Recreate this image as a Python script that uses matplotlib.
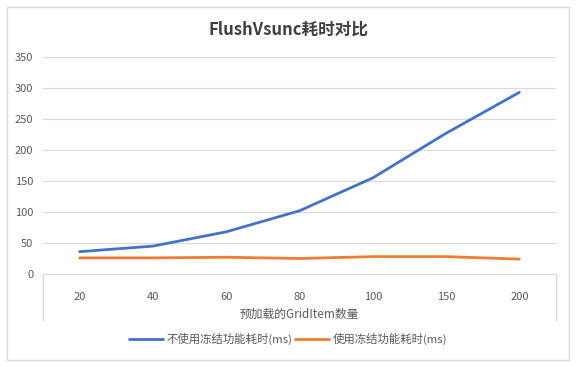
import matplotlib
matplotlib.use("Agg")
import matplotlib.pyplot as plt
from matplotlib.patches import Rectangle
from matplotlib.lines import Line2D

plt.rcParams['font.family'] = ['Noto Sans CJK SC', 'DejaVu Sans']

categories = ["20", "40", "60", "80", "100", "150", "200"]
no_freeze = [36, 45, 68, 102, 155, 227, 293]
with_freeze = [26, 26, 27, 25, 28, 28, 24]
yticks = [0, 50, 100, 150, 200, 250, 300, 350]

W, H = 576, 367
fig = plt.figure(figsize=(W / 100, H / 100), dpi=100)

# outer frame
fig.patches.append(Rectangle((7 / W, 7 / H), 562 / W, 353 / H, transform=fig.transFigure,
                             fill=False, edgecolor="#d9d9d9", linewidth=1))

ax = fig.add_axes([43 / W, (H - 274) / H, (556 - 43) / W, (274 - 57) / H])
x = list(range(len(categories)))
ax.plot(x, no_freeze, color="#4472C4", linewidth=2.0, solid_capstyle="round",
        label="不使用冻结功能耗时(ms)")
ax.plot(x, with_freeze, color="#ED7D31", linewidth=2.0, solid_capstyle="round",
        label="使用冻结功能耗时(ms)")

ax.set_xlim(-0.5, len(categories) - 0.5)
ax.set_ylim(0, 350)
ax.set_yticks(yticks)
ax.set_xticks(x)
ax.set_xticklabels(categories)
ax.grid(axis="y", color="#d9d9d9", linewidth=0.8)
ax.set_axisbelow(True)
for s in ["top", "right", "left"]:
    ax.spines[s].set_visible(False)
ax.spines["bottom"].set_color("#d9d9d9")
ax.tick_params(axis="both", length=0, labelsize=8, colors="#595959")
ax.tick_params(axis="x", pad=13)
ax.tick_params(axis="y", pad=7)

# category axis box sides
depth = (320 - 274) / (274 - 57)
for xa in (0, 1):
    ax.add_line(Line2D([xa, xa], [0, -depth], transform=ax.transAxes, color="#d9d9d9",
                       linewidth=1, clip_on=False))

ax.set_xlabel("预加载的GridItem数量", fontsize=8.5, color="#595959", labelpad=4)

fig.text(0.5, (H - 30) / H, "FlushVsunc耗时对比", ha="center", va="center",
         fontsize=12, fontweight="bold", color="#404040")

fig.legend(loc="center", bbox_to_anchor=(0.5, (H - 339) / H), ncol=2, frameon=False,
           fontsize=8.2, labelcolor="#595959", handlelength=3.0, columnspacing=0.2,
           handletextpad=0.3)

fig.savefig("out.png", dpi=100)
